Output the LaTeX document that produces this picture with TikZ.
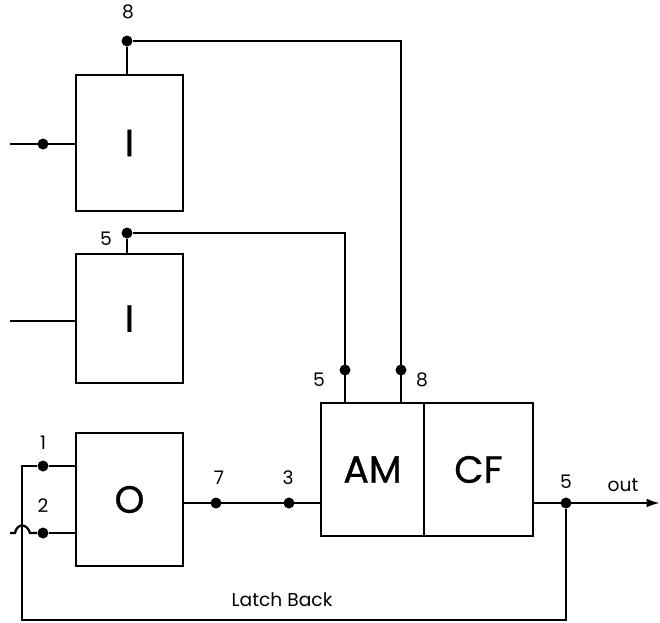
\documentclass[tikz,border=0pt]{standalone}
\usepackage{fontspec}
\setmainfont{Poppins}
\newfontfamily\blockfont[FakeBold=0.8]{Poppins}
\usepackage{tikz}
\usetikzlibrary{
  arrows.meta,
  positioning
}
\tikzset{
  wire/.style={
    line width=1.7pt,
    draw=black
  },
  outwire/.style={
    wire,
    -{Latex[length=10pt,width=6.5pt]}
  },
  block/.style={
    draw=black,
    fill=white,
    line width=1.7pt,
    outer sep=0pt,
    inner sep=0pt,
    minimum width=80.25pt,
    align=center,
    font=\blockfont\fontsize{28.5}{32}\selectfont
  },
  junction/.style={
    circle,
    fill=black,
    inner sep=0pt,
    minimum size=8.25pt
  },
  pinlabel/.style={
    inner sep=0pt,
    font=\fontsize{14}{16}\selectfont
  }
}

\begin{document}
\begin{tikzpicture}[x=0.75pt, y=-0.75pt, node distance=32.25pt and 15pt]
  \useasboundingbox (0,0) rectangle (660,622);

  \node[block, minimum height=102pt] (invtop) at (129.5,143) {I};
  \node[block, minimum height=96.75pt, below=of invtop] (invmid) {I};
  \node[block, minimum height=99.75pt, below=37.5pt of invmid] (orgate) {O};
  \node[block, minimum width=77.25pt, minimum height=99.75pt] (am) at (372.5,469.5) {AM};
  \node[block, minimum width=81.75pt, minimum height=99.75pt, right=0pt of am] (cf) {CF};

  \node[junction] (d8top) at (127,41) {};
  \node[junction] (d5mid) at (127,233) {};
  \node[junction] (dintop) at (43,144) {};
  \node[junction] (d1) at (43,466) {};
  \node[junction] (d2) at (43,533) {};
  \node[junction] (d7) at (216,503) {};
  \node[junction] (d3) at (289,503) {};
  \node[junction] (d5am) at (345,370) {};
  \node[junction] (d8am) at (401,370) {};
  \node[junction] (d5out) at (566,503) {};

  \coordinate (intop) at (10,144);
  \coordinate (inmid) at (10,321);
  \coordinate (in2) at (10,533);
  \coordinate (outend) at (660,503);
  \coordinate (latch) at (22,620);

  \node[pinlabel] (l8top) at (128,12) {8};
  \node[pinlabel] (l5mid) at (106,239) {5};
  \node[pinlabel] (l1) at (43,443) {1};
  \node[pinlabel] (l2) at (43,506) {2};
  \node[pinlabel] (l7) at (219,478) {7};
  \node[pinlabel] (l3) at (288,478) {3};
  \node[pinlabel] (l5am) at (319,380) {5};
  \node[pinlabel] (l8am) at (422,380) {8};
  \node[pinlabel] (l5out) at (566,482) {5};
  \node[pinlabel] (lout) at (623,485) {out};
  \node[pinlabel] (llatch) at (282,600) {Latch Back};

  \draw[wire] (intop) -- (invtop.west |- intop);
  \draw[wire] (inmid) -- (invmid.west |- inmid);
  \draw[wire] (invtop.north -| d8top) -- (d8top);
  \draw[wire] (invmid.north -| d5mid) -- (d5mid);
  \draw[wire] (d8top) -| (am.north -| d8am);
  \draw[wire] (d5mid) -| (am.north -| d5am);

  \draw[wire] (orgate.east |- d7) -- (am.west |- d7);
  \draw[outwire] (cf.east |- outend) -- (outend);
  \draw[wire] (d1) -- (orgate.west |- d1);
  \draw[wire] (d2) -- (orgate.west |- d2);
  \draw[wire] (in2) -- (15,533) .. controls (17,523) and (27,523) .. (30,533) -- (d2);
  \draw[wire] (d5out) |- (latch) |- (d1);
\end{tikzpicture}
\end{document}
